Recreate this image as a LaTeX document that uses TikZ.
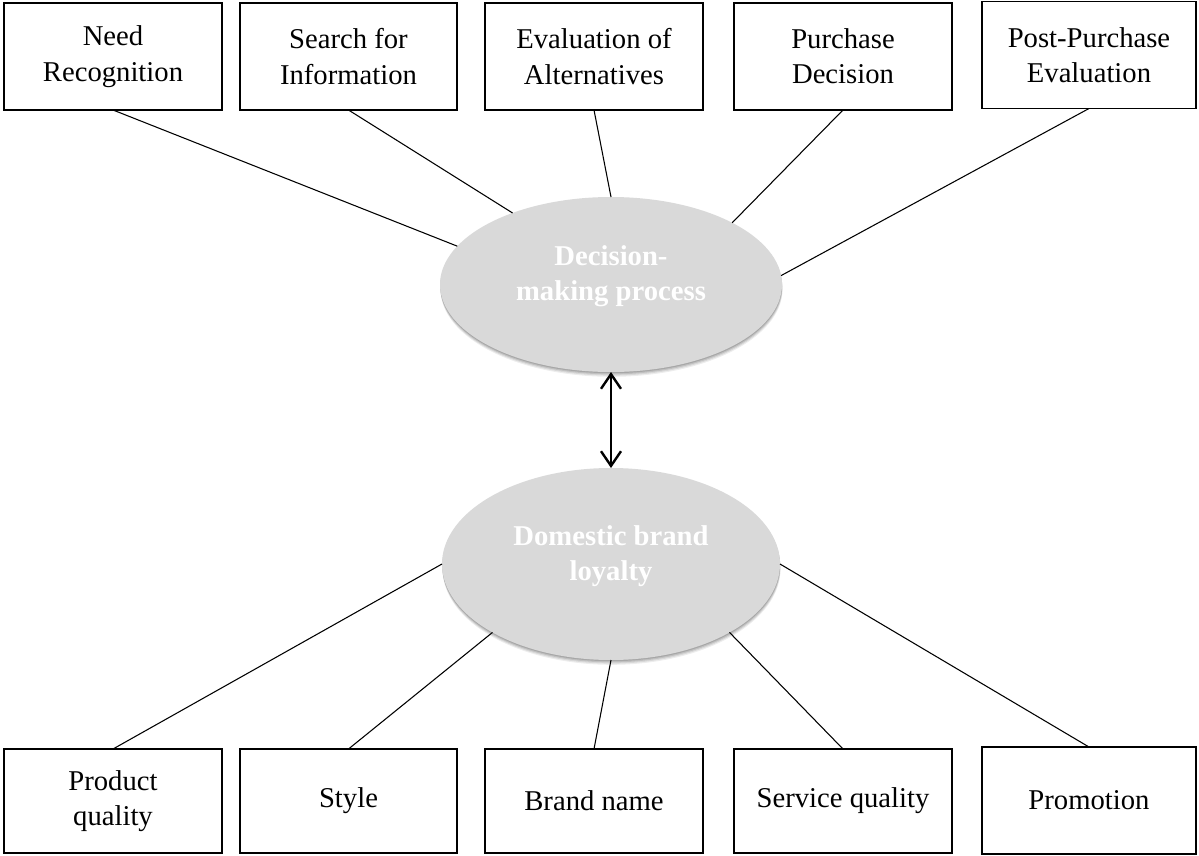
\documentclass[tikz,border=0pt]{standalone}
\usepackage{fontspec}
\setmainfont{Liberation Serif}
\usetikzlibrary{arrows.meta,shapes.geometric,shadows}

\definecolor{ovalgray}{HTML}{D9D9D9}

\tikzset{
  factorbox/.style={draw, line width=1.1pt, inner sep=0pt, outer sep=0pt,
    minimum width=163.5pt, minimum height=80.25pt, align=center,
    font=\fontsize{21.5}{26.5}\selectfont},
  oval/.style={ellipse, fill=ovalgray, outer sep=0pt,
    general shadow={shadow xshift=0.4pt, shadow yshift=-3.6pt, fill=black, opacity=0.07},
    general shadow={shadow xshift=0.3pt, shadow yshift=-2.7pt, fill=black, opacity=0.09},
    general shadow={shadow xshift=0.2pt, shadow yshift=-1.8pt, fill=black, opacity=0.11},
    general shadow={shadow xshift=0.1pt, shadow yshift=-0.9pt, fill=black, opacity=0.13}},
  ovaltext/.style={text=white, align=center, font=\bfseries\fontsize{21.5}{26.5}\selectfont},
  link/.style={line width=0.8pt},
}

\begin{document}
\begin{tikzpicture}[x=0.75pt,y=-0.75pt]
        \useasboundingbox (0,0) rectangle (1199,856);

        % stages of the decision
        \node[factorbox] (need) at (113,56.5) {Need\\Recognition};
        \node[factorbox, minimum width=162.75pt] (search) at (348.5,56.5) {Search for\\Information};
        \node[factorbox] (evalalt) at (594,56.5) {Evaluation of\\Alternatives};
        \node[factorbox] (purchase) at (843,56.5) {Purchase\\Decision};
        \node[factorbox, minimum width=160.5pt] (postpur) at (1089,55) {Post-Purchase\\Evaluation};

        % the two ovals
        \node[oval, minimum width=256.5pt, minimum height=131.25pt] (dmp) at (611,284.5) {};
        \node[ovaltext] (dmptext) at ([yshift=6pt]dmp.center) {Decision-\\making process};
        \node[oval, minimum width=253.5pt, minimum height=144pt] (dbl) at (611,564) {};
        \node[ovaltext] (dbltext) at ([yshift=6pt]dbl.center) {Domestic brand\\loyalty};

        % loyalty factors
        \node[factorbox, minimum height=78pt] (prodq) at (113,801) {Product\\quality};
        \node[factorbox, minimum height=78pt, minimum width=162.75pt] (sty) at (348.5,801) {Style};
        \node[factorbox, minimum height=78pt] (brand) at (594,801) {Brand name};
        \node[factorbox, minimum height=78pt] (serviceq) at (843,801) {Service quality};
        \node[factorbox, minimum width=160.5pt] (promo) at (1089,800.5) {Promotion};

        \draw[line width=1.8pt, {Straight Barb[length=11pt,width=15pt]}-{Straight Barb[length=11pt,width=15pt]}] (dmp.south) -- (dbl.north);

        \foreach \n/\a in {need/166, search/144, evalalt/90, purchase/27, postpur/3}
            \draw[link] (\n.south) -- (dmp.\a);
        \foreach \n/\a in {prodq/180, sty/210, brand/270, serviceq/330, promo/0}
            \draw[link] (\n.north) -- (dbl.\a);

\end{tikzpicture}
\end{document}
